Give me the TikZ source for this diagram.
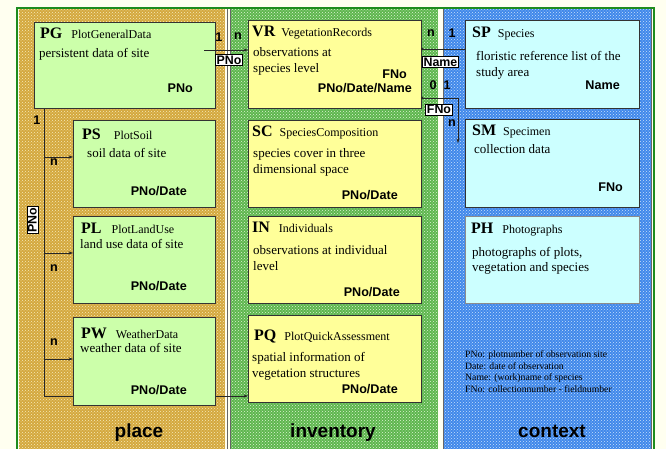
\documentclass[tikz,border=0pt]{standalone}
\usepackage{fontspec}
\setmainfont{Liberation Serif}
\setsansfont{Liberation Sans}
\usetikzlibrary{arrows.meta,patterns}

\definecolor{cream}{HTML}{FFFFF0}
\definecolor{framegreen}{HTML}{1E8C1E}
\definecolor{goldbase}{HTML}{D4A83E}
\definecolor{goldspeck}{HTML}{F6EABA}
\definecolor{greenbase}{HTML}{5EB64E}
\definecolor{greenspeck}{HTML}{DDF5D4}
\definecolor{bluebase}{HTML}{4088EA}
\definecolor{bluespeck}{HTML}{C8E0FC}
\definecolor{plfill}{HTML}{CCFFAA}
\definecolor{invfill}{HTML}{FFFF99}
\definecolor{ctxfill}{HTML}{CCFFFF}

\pgfdeclarelayer{panel}
\pgfdeclarelayer{link}
\pgfsetlayers{panel,link,main}

\newcommand\entname[1]{{\fontsize{12}{12}\selectfont\mdseries #1}}

\tikzset{
  ent/.style={draw=black!80, line width=0.7pt, anchor=north west, inner sep=0, outer sep=0},
  plbox/.style={ent, fill=plfill},
  invbox/.style={ent, fill=invfill},
  ctxbox/.style={ent, fill=ctxfill},
  ttl/.style={font=\fontsize{16}{16}\selectfont\bfseries, anchor=base west, inner sep=0},
  desc/.style={font=\fontsize{13}{13}\selectfont, anchor=base west, inner sep=0},
  keytxt/.style={font=\sffamily\bfseries\fontsize{12.6}{12.6}\selectfont, anchor=base east, inner sep=0},
  card/.style={font=\sffamily\bfseries\fontsize{12.6}{12.6}\selectfont, inner sep=0},
  tag/.style={font=\sffamily\bfseries\fontsize{12.4}{12.4}\selectfont, draw=black, line width=0.7pt,
              fill=white, inner sep=1.3pt},
  arr/.style={draw=black!85, line width=0.6pt, -{Stealth[length=4.5pt,width=3.2pt]}},
  lnk/.style={draw=black!85, line width=0.6pt},
  paneltitle/.style={font=\sffamily\bfseries\fontsize{19}{19}\selectfont, anchor=base, inner sep=0},
  legend/.style={font=\fontsize{9.7}{9.7}\selectfont, anchor=base west, inner sep=0},
}

\begin{document}
\begin{tikzpicture}[x=1pt,y=-1pt]
\useasboundingbox (0,0) rectangle (666,449);

% background and the three panels
\begin{pgfonlayer}{panel}
  \fill[cream] (0,0) rectangle (666,449);
  \fill[goldbase] (19,9) rectangle (225,460);
  \fill[pattern=crosshatch dots, pattern color=goldspeck] (19,9) rectangle (225,460);
  \fill[greenbase] (230.5,9) rectangle (438,460);
  \fill[pattern=crosshatch dots, pattern color=greenspeck] (230.5,9) rectangle (438,460);
  \fill[bluebase] (443,9) rectangle (651,460);
  \fill[pattern=crosshatch dots, pattern color=bluespeck] (443,9) rectangle (651,460);
  \draw[black!60, line width=0.5pt] (227.5,9) -- (227.5,460);
  \draw[black!60, line width=0.5pt] (230.5,9) -- (230.5,460);
  \draw[black!60, line width=0.5pt] (443,9) -- (443,460);
  \draw[black!60, line width=0.5pt] (651,9) -- (651,460);
  \draw[framegreen, line width=2pt] (17,8) rectangle (654,470);
\end{pgfonlayer}

% place
\node[plbox, minimum width=181, minimum height=86] (PG) at (34,22) {};
\node[plbox, minimum width=142, minimum height=87] (PS) at (73,120) {};
\node[plbox, minimum width=142, minimum height=87] (PL) at (73,216) {};
\node[plbox, minimum width=142, minimum height=88] (PW) at (73,317) {};
% inventory
\node[invbox, minimum width=173, minimum height=88] (VR) at (248,20) {};
\node[invbox, minimum width=173, minimum height=87] (SC) at (248,120) {};
\node[invbox, minimum width=173, minimum height=87] (IN) at (248,216) {};
\node[invbox, minimum width=173, minimum height=87] (PQ) at (248,315) {};
% context
\node[ctxbox, minimum width=174, minimum height=88] (SP) at (465,20) {};
\node[ctxbox, minimum width=174, minimum height=88] (SM) at (465,119) {};
\node[ctxbox, draw=black!45, minimum width=174, minimum height=87] (PH) at (465,216) {};

% entity texts
\node[ttl] (PGt) at ([shift={(6,17)}]PG.north west) {PG\hspace{9pt}\entname{PlotGeneralData}};
\node[desc] (PGd) at ([shift={(5,36)}]PG.north west) {persistent data of site};
\node[keytxt] (PGk) at ([shift={(-22,71)}]PG.north east) {PNo};

\node[ttl] (PSt) at ([shift={(9,20)}]PS.north west) {PS\hspace{13pt}\entname{PlotSoil}};
\node[desc] (PSd) at ([shift={(14,38)}]PS.north west) {soil data of site};
\node[keytxt] (PSk) at ([shift={(-28,75)}]PS.north east) {PNo/Date};

\node[ttl] (PLt) at ([shift={(8,17)}]PL.north west) {PL\hspace{10pt}\entname{PlotLandUse}};
\node[desc] (PLd) at ([shift={(7,32)}]PL.north west) {land use data of site};
\node[keytxt] (PLk) at ([shift={(-28,74)}]PL.north east) {PNo/Date};

\node[ttl] (PWt) at ([shift={(8,21)}]PW.north west) {PW\hspace{9pt}\entname{WeatherData}};
\node[desc] (PWd) at ([shift={(7,35)}]PW.north west) {weather data of site};
\node[keytxt] (PWk) at ([shift={(-28,77)}]PW.north east) {PNo/Date};

\node[ttl] (VRt) at ([shift={(4,17)}]VR.north west) {VR\hspace{6pt}\entname{VegetationRecords}};
\node[desc] (VRd1) at ([shift={(5,37)}]VR.north west) {observations at};
\node[desc] (VRd2) at ([shift={(5,53)}]VR.north west) {species level};
\node[keytxt] (VRk1) at ([shift={(-14,59)}]VR.north east) {FNo};
\node[keytxt] (VRk2) at ([shift={(-9,73)}]VR.north east) {PNo/Date/Name};

\node[ttl] (SCt) at ([shift={(4,17)}]SC.north west) {SC\hspace{7pt}\entname{SpeciesComposition}};
\node[desc] (SCd1) at ([shift={(5,38)}]SC.north west) {species cover in three};
\node[desc] (SCd2) at ([shift={(5,54)}]SC.north west) {dimensional space};
\node[keytxt] (SCk) at ([shift={(-23,80)}]SC.north east) {PNo/Date};

\node[ttl] (INt) at ([shift={(4,16)}]IN.north west) {IN\hspace{9pt}\entname{Individuals}};
\node[desc] (INd1) at ([shift={(5,38)}]IN.north west) {observations at individual};
\node[desc] (INd2) at ([shift={(5,54)}]IN.north west) {level};
\node[keytxt] (INk) at ([shift={(-21,80)}]IN.north east) {PNo/Date};

\node[ttl] (PQt) at ([shift={(6,25)}]PQ.north west) {PQ\hspace{8pt}\entname{PlotQuickAssessment}};
\node[desc] (PQd1) at ([shift={(4,46)}]PQ.north west) {spatial information of};
\node[desc] (PQd2) at ([shift={(4,62)}]PQ.north west) {vegetation structures};
\node[keytxt] (PQk) at ([shift={(-23,78)}]PQ.north east) {PNo/Date};

\node[ttl] (SPt) at ([shift={(7,18)}]SP.north west) {SP\hspace{7pt}\entname{Species}};
\node[desc] (SPd1) at ([shift={(11,41)}]SP.north west) {floristic reference list of the};
\node[desc] (SPd2) at ([shift={(11,57)}]SP.north west) {study area};
\node[keytxt] (SPk) at ([shift={(-19,70)}]SP.north east) {Name};

\node[ttl] (SMt) at ([shift={(7,17)}]SM.north west) {SM\hspace{7pt}\entname{Specimen}};
\node[desc] (SMd) at ([shift={(9,35)}]SM.north west) {collection data};
\node[keytxt] (SMk) at ([shift={(-16,72)}]SM.north east) {FNo};

\node[ttl] (PHt) at ([shift={(6,17)}]PH.north west) {PH\hspace{9pt}\entname{Photographs}};
\node[desc] (PHd1) at ([shift={(7,40)}]PH.north west) {photographs of plots,};
\node[desc] (PHd2) at ([shift={(7,55)}]PH.north west) {vegetation and species};

% PG -> place tables: trunk running down the left, behind the boxes
\coordinate (trbot) at (44,396);
\begin{pgfonlayer}{link}
  \draw[arr] (PG.south -| trbot) -- (trbot) -- (trbot -| PQ.west);
\end{pgfonlayer}
\coordinate (brPS) at (44,157);
\coordinate (brPL) at (44,253);
\coordinate (brPW) at (44,359);
\draw[arr] (brPS) -- (brPS -| PS.west);
\draw[arr] (brPL) -- (brPL -| PL.west);
\draw[arr] (brPW) -- (brPW -| PW.west);
\node[card] (c1) at (37,120) {1};
\node[card] (c2) at (54,162) {n};
\node[card] (c3) at (54,268) {n};
\node[card] (c4) at (54,342) {n};
\node[tag, rotate=90] (tPNo1) at (32.5,220) {PNo};

% PG -> VR
\coordinate (pgout) at (204,50);
\draw[arr] (pgout) -- (pgout -| VR.west);
\node[card] (c5) at (219,37) {1};
\node[card] (c6) at (238,36) {n};
\node[tag] (tPNo2) at (229,60) {PNo};

% VR -- SP
\coordinate (vrname) at (VR.east |- 0,49);
\draw[lnk, {Circle[length=2.6pt]}-] (vrname) -- (vrname -| SP.west);
\node[card] (c7) at (431,33) {n};
\node[card] (c8) at (452,33) {1};
\node[tag] (tName) at (440.5,62) {Name};

% VR -> SM
\coordinate (vrfno) at (VR.east |- 0,98);
\coordinate (smin) at (458,143);
\draw[lnk, {Circle[length=2.6pt]}-{Stealth[length=4.5pt,width=3.2pt]}] (vrfno) -| (smin);
\node[card] (c9) at (433,85) {0};
\node[card] (c10) at (447,85) {1};
\node[tag] (tFNo) at (439,109.5) {FNo};
\node[card] (c11) at (452,123) {n};

% legend
\node[legend] (lg1) at (465,357) {PNo: plotnumber of observation site};
\node[legend] (lg2) at (465,369) {Date: date of observation};
\node[legend] (lg3) at (465,380.5) {Name: (work)name of species};
\node[legend] (lg4) at (465,392) {FNo: collectionnumber - fieldnumber};

% panel titles
\node[paneltitle] (pplace) at (139,437) {place};
\node[paneltitle] (pinv) at (333,437) {inventory};
\node[paneltitle] (pctx) at (552,437) {context};
\end{tikzpicture}
\end{document}
